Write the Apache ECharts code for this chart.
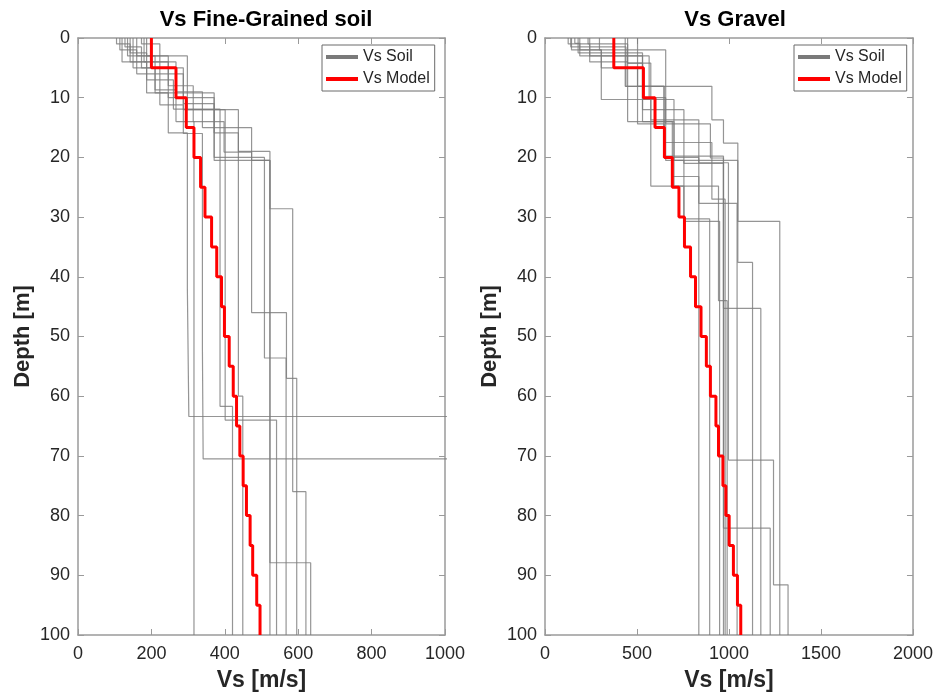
<!DOCTYPE html>
<html>
<head>
<meta charset="utf-8">
<script src="https://cdn.jsdelivr.net/npm/echarts@6/dist/echarts.min.js"></script>
<style>
  html, body { margin: 0; padding: 0; background: #fff; }
  #chart { width: 936px; height: 697px; }
</style>
</head>
<body>
<div id="chart"></div>
<script>
// model layers: 5 m steps down to 100 m
const modelDepths = [0, 5, 10, 15, 20, 25, 30, 35, 40, 45, 50, 55, 60, 65, 70, 75, 80, 85, 90, 95, 100];
const fineModelVs = [200, 267, 295, 316, 334, 346, 364, 378, 391, 399, 412, 423, 432, 441, 450, 459, 469, 476, 487, 496];
const gravelModelVs = [374, 535, 598, 649, 692, 728, 758, 791, 818, 848, 877, 899, 929, 943, 967, 983, 1001, 1024, 1046, 1064];

// measured profiles (layer boundaries [m] and Vs [m/s] per layer)
const fineSoilDepths = [
  [0, 1, 4, 9.2, 15.9, 42, 63.4, 100],
  [0, 2, 6, 11.2, 16, 52, 70.5, 100],
  [0, 1.5, 5, 8.7, 14, 100],
  [0, 2.5, 7, 11.9, 61.7, 100],
  [0, 3, 9.2, 15.9, 60, 100],
  [0, 1, 6, 12, 64, 100],
  [0, 4, 9, 15, 20.5, 100],
  [0, 3, 8, 14, 19.1, 46, 57, 100],
  [0, 5, 11, 20, 53.6, 100],
  [0, 3, 12, 19, 28.6, 76, 100],
  [0, 4, 10, 20.5, 87.9, 100]
];
const fineSoilVs = [
  [105, 142, 187, 246, 298, 302, 1500],
  [114, 160, 223, 287, 339, 341, 1500],
  [128, 173, 210, 267, 316],
  [142, 187, 260, 387, 421],
  [160, 210, 371, 437, 449],
  [173, 223, 287, 401, 541],
  [180, 267, 339, 473, 523],
  [187, 246, 314, 398, 473, 568, 596],
  [150, 287, 371, 508, 567],
  [135, 298, 437, 523, 585, 621],
  [120, 246, 371, 523, 634]
];
const gravelSoilDepths = [
  [0, 1, 4, 14, 23.2, 100],
  [0, 2, 10.3, 24.8, 30.3, 100],
  [0, 0.9, 3, 8.1, 13.7, 17.6, 37.6, 100],
  [0, 2, 5, 14.4, 19.8, 45.3, 100],
  [0, 1, 4.2, 14, 20.5, 30.7, 100],
  [0, 3, 10, 20.5, 30.7, 100],
  [0, 2, 8.1, 17.5, 27, 100],
  [0, 3, 10.3, 24.8, 44, 100],
  [0, 4.2, 13.7, 20.9, 70.7, 91.6, 100],
  [0, 2, 14.4, 20.1, 82.1, 100],
  [0, 1.5, 8.1, 20, 27.7, 100],
  [0, 2.5, 12, 21, 100]
];
const gravelSoilVs = [
  [126, 243, 449, 692, 836],
  [144, 306, 575, 755, 895],
  [162, 189, 436, 907, 970, 1048, 1128],
  [189, 306, 503, 647, 970, 1173],
  [234, 449, 530, 701, 1048, 1276],
  [243, 566, 656, 755, 949],
  [296, 503, 647, 907, 979],
  [436, 530, 701, 943, 990],
  [449, 575, 836, 997, 1242, 1321],
  [503, 656, 899, 970, 1224],
  [140, 440, 647, 836, 1044],
  [180, 530, 755, 970]
];

const FONT = "'Liberation Sans', Arial, Helvetica, sans-serif";
const AXIS_COLOR = "#9a9a9a";
const SOIL_COLOR = "#7a7a7a";
const MODEL_COLOR = "#ff0000";

// turn layers into step points [vs, depth]
function steps(depths, vs) {
  const pts = [];
  vs.forEach((v, i) => {
    pts.push([v, depths[i]]);
    pts.push([v, depths[i + 1]]);
  });
  return pts;
}

function soilSeries(depths, vs, axis) {
  return depths.map((d, i) => ({
    name: "Vs Soil",
    type: "line",
    xAxisIndex: axis,
    yAxisIndex: axis,
    data: steps(d, vs[i]),
    symbol: "none",
    silent: true,
    itemStyle: { color: SOIL_COLOR },
    lineStyle: { color: SOIL_COLOR, width: 1.2, opacity: 0.8 },
    z: 2,
  }));
}

function modelSeries(vs, axis) {
  return {
    name: "Vs Model",
    type: "line",
    xAxisIndex: axis,
    yAxisIndex: axis,
    data: steps(modelDepths, vs),
    symbol: "none",
    itemStyle: { color: MODEL_COLOR },
    lineStyle: { color: MODEL_COLOR, width: 3 },
    z: 5,
  };
}

function xAxes(grid, max, interval) {
  const base = {
    gridIndex: grid,
    type: "value",
    min: 0,
    max: max,
    interval: interval,
    axisLine: { show: true, onZero: false, lineStyle: { color: AXIS_COLOR, width: 1.5 } },
    axisTick: { show: true, inside: true, length: 6, lineStyle: { color: AXIS_COLOR } },
    splitLine: { show: false },
  };
  return [
    {
      ...base,
      position: "bottom",
      name: "Vs [m/s]",
      nameLocation: "middle",
      nameGap: 34,
      nameTextStyle: { fontFamily: FONT, fontSize: 23, fontWeight: "bold", color: "#262626" },
      axisLabel: {
        fontFamily: FONT, fontSize: 18, color: "#262626", margin: 10,
        formatter: (v) => String(v),
      },
    },
    { ...base, position: "top", axisLabel: { show: false } },
  ];
}

function yAxes(grid) {
  const base = {
    gridIndex: grid,
    type: "value",
    inverse: true,
    min: 0,
    max: 100,
    interval: 10,
    axisLine: { show: true, onZero: false, lineStyle: { color: AXIS_COLOR, width: 1.5 } },
    axisTick: { show: true, inside: true, length: 6, lineStyle: { color: AXIS_COLOR } },
    splitLine: { show: false },
  };
  return [
    {
      ...base,
      position: "left",
      name: "Depth [m]",
      nameLocation: "middle",
      nameGap: 44,
      nameRotate: 90,
      nameTextStyle: { fontFamily: FONT, fontSize: 22, fontWeight: "bold", color: "#262626" },
      axisLabel: { fontFamily: FONT, fontSize: 18, color: "#262626", margin: 8 },
    },
    { ...base, position: "right", axisLabel: { show: false } },
  ];
}

function legend(left) {
  return {
    orient: "vertical",
    left: left,
    top: 45,
    backgroundColor: "#fff",
    borderColor: "#6a6a6a",
    borderWidth: 1,
    borderRadius: 0,
    padding: [4, 5, 4, 4],
    itemGap: 6,
    icon: "rect",
    itemWidth: 32,
    itemHeight: 4,
    textStyle: { fontFamily: FONT, fontSize: 16, color: "#262626" },
    data: [
      { name: "Vs Soil", itemStyle: { color: SOIL_COLOR } },
      { name: "Vs Model", itemStyle: { color: MODEL_COLOR } },
    ],
    selectedMode: false,
  };
}

const chart = echarts.init(document.getElementById("chart"));
chart.setOption({
  backgroundColor: "#fff",
  animation: false,
  title: [
    {
      text: "Vs Fine-Grained soil",
      left: 261,
      top: 4,
      textAlign: "center",
      textStyle: { fontFamily: FONT, fontSize: 22, fontWeight: "bold", color: "#000" },
    },
    {
      text: "Vs Gravel",
      left: 730,
      top: 4,
      textAlign: "center",
      textStyle: { fontFamily: FONT, fontSize: 22, fontWeight: "bold", color: "#000" },
    },
  ],
  legend: [legend(322), legend(794)],
  grid: [
    { left: 78, top: 38, width: 367, height: 599 },
    { left: 545, top: 38, width: 369, height: 599 },
  ],
  xAxis: [...xAxes(0, 1000, 200), ...xAxes(1, 2000, 500)],
  yAxis: [...yAxes(0), ...yAxes(1)],
  series: [
    ...soilSeries(fineSoilDepths, fineSoilVs, 0),
    modelSeries(fineModelVs, 0),
    ...soilSeries(gravelSoilDepths, gravelSoilVs, 2),
    modelSeries(gravelModelVs, 2),
  ],
});
</script>
</body>
</html>
